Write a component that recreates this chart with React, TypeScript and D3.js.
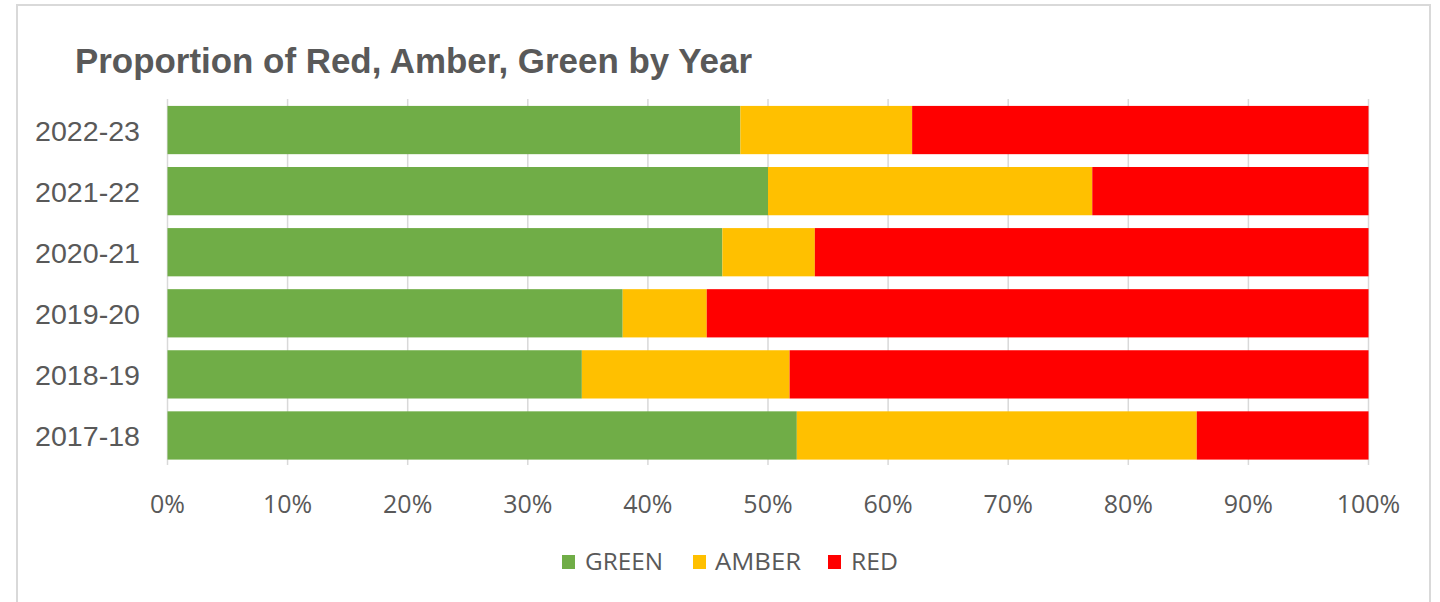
import React from "react";
import * as d3 from "d3";

const years = ["2022-23", "2021-22", "2020-21", "2019-20", "2018-19", "2017-18"];
const green = [47.7, 50.0, 46.2, 37.9, 34.5, 52.4];
const amber = [14.3, 27.0, 7.7, 7.0, 17.3, 33.3];
const red = [38.0, 23.0, 46.1, 55.1, 48.2, 14.3];
const seriesNames = ["GREEN", "AMBER", "RED"];
const seriesColors = ["#70AD47", "#FFC000", "#FF0000"];
const xTicks = [0, 10, 20, 30, 40, 50, 60, 70, 80, 90, 100];
const title = "Proportion of Red, Amber, Green by Year";

const W = 1440;
const H = 602;
const textColor = "#595959";
const gridColor = "#d9d9d9";

export default function App() {
  const x = d3.scaleLinear().domain([0, 100]).range([167.5, 1368.5]);
  const y = d3.scaleBand<string>().domain(years).range([99.5, 466]).paddingInner(0.21).paddingOuter(0.105);

  const rows = years.map((yr, i) => ({ year: yr, GREEN: green[i], AMBER: amber[i], RED: red[i] }));
  const stack = d3.stack<any>().keys(seriesNames)(rows);

  const legendItems = [
    { name: "GREEN", sq: 562, tx: 585, w: 78 },
    { name: "AMBER", sq: 693, tx: 715, w: 86 },
    { name: "RED", sq: 828, tx: 851, w: 47 },
  ];

  return (
    <div style={{ position: "absolute", left: 0, top: 0 }}>
      <svg width={W} height={H} style={{ display: "block", background: "#fff" }}>
        <rect x={17} y={5} width={1413} height={620} fill="#fff" stroke="#d9d9d9" strokeWidth={2} />
        <text
          x={75}
          y={73}
          fontFamily="'Liberation Sans', Arial, sans-serif"
          fontWeight="bold"
          fontSize={34.5}
          fill={textColor}
          textLength={677}
          lengthAdjust="spacingAndGlyphs"
        >
          {title}
        </text>
        {xTicks.map((t) => (
          <line key={"g" + t} x1={x(t)} x2={x(t)} y1={99} y2={465} stroke={gridColor} strokeWidth={1.5} />
        ))}
        {stack.map((s, si) => (
          <g key={s.key} fill={seriesColors[si]}>
            {s.map((d, i) => (
              <rect
                key={i}
                x={x(d[0])}
                y={y(years[i])}
                width={x(d[1]) - x(d[0])}
                height={y.bandwidth()}
              />
            ))}
          </g>
        ))}
        {years.map((yr) => (
          <text
            key={yr}
            x={35}
            y={(y(yr) as number) + y.bandwidth() / 2 + 10.5}
            fontFamily="'Liberation Sans', Arial, sans-serif"
            fontSize={28.5}
            fill={textColor}
            textLength={105}
            lengthAdjust="spacingAndGlyphs"
          >
            {yr}
          </text>
        ))}
        {xTicks.map((t) => (
          <text
            key={"t" + t}
            x={x(t)}
            y={513}
            textAnchor="middle"
            fontFamily="'Open Sans', sans-serif"
            fontSize={25}
            fill={textColor}
          >
            {t + "%"}
          </text>
        ))}
        {legendItems.map((it, i) => (
          <g key={it.name}>
            <rect x={it.sq} y={555} width={13} height={14} fill={seriesColors[i]} />
            <text
              x={it.tx}
              y={570}
              fontFamily="'Open Sans', sans-serif"
              fontSize={23}
              fill={textColor}
              textLength={it.w}
              lengthAdjust="spacingAndGlyphs"
            >
              {it.name}
            </text>
          </g>
        ))}
      </svg>
    </div>
  );
}
